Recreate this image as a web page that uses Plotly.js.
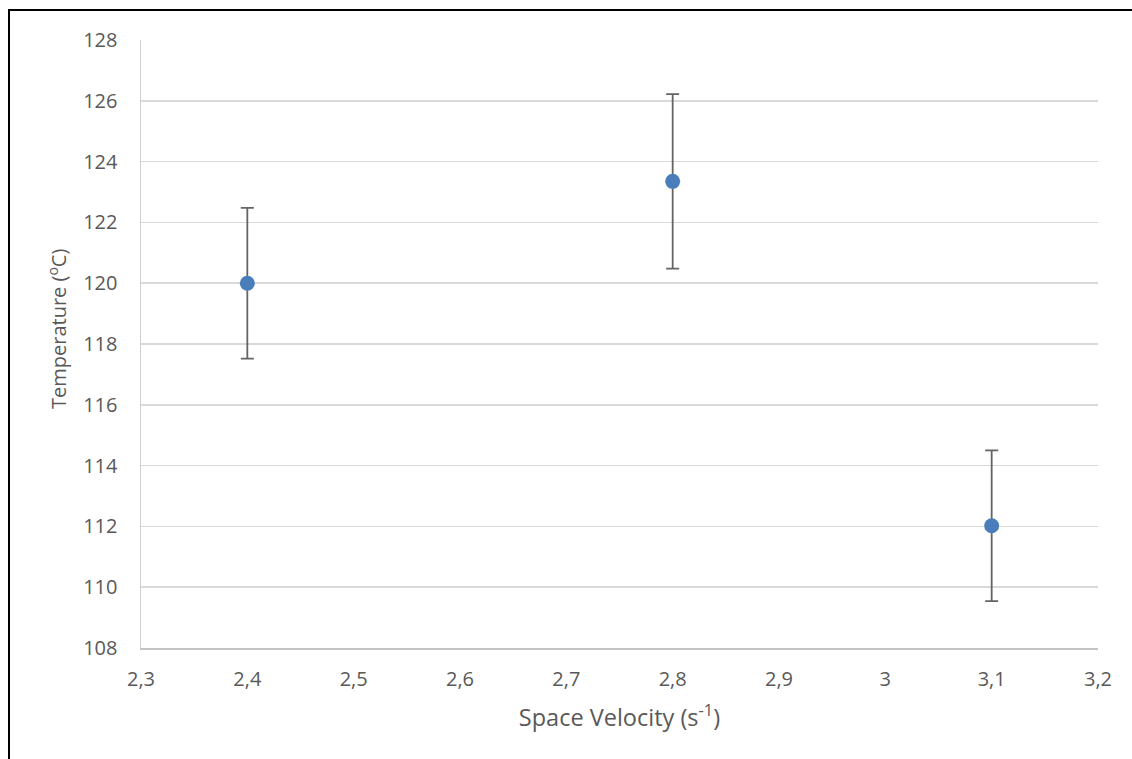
<!DOCTYPE html>
<html>
<head>
<meta charset="utf-8">
<script src="https://cdn.plot.ly/plotly-3.0.1.min.js"></script>
<style>
  html, body { margin: 0; padding: 0; background: #fff; overflow: hidden; }
  #wrap { position: relative; width: 1132px; height: 759px; }
  #chart { position: absolute; left: 0; top: 0; width: 1132px; height: 759px; }
  #frame { position: absolute; left: 8px; top: 9px; width: 1300px; height: 900px;
           border: 2px solid #000; pointer-events: none; box-sizing: border-box; }
</style>
</head>
<body>
<div id="wrap">
  <div id="chart"></div>
  <div id="frame"></div>
</div>
<script>
const spaceVelocity = [2.4, 2.8, 3.1];
const temperature = [120.0, 123.35, 112.02];
const errorValues = [2.48, 2.87, 2.48];
const xTickValues = [2.3, 2.4, 2.5, 2.6, 2.7, 2.8, 2.9, 3.0, 3.1, 3.2];
const xTickLabels = ['2,3', '2,4', '2,5', '2,6', '2,7', '2,8', '2,9', '3', '3,1', '3,2'];
const yTickValues = [108, 110, 112, 114, 116, 118, 120, 122, 124, 126, 128];
const xTitle = 'Space Velocity (s<sup>-1</sup>)';
const yTitle = 'Temperature (<sup>o</sup>C)';

const fontFam = 'Open Sans';
const textColor = '#595959';

const trace = {
  x: spaceVelocity,
  y: temperature,
  mode: 'markers',
  type: 'scatter',
  marker: { color: '#4a7ebb', size: 15 },
  error_y: { type: 'data', array: errorValues, visible: true,
             color: '#646464', thickness: 1.8, width: 6.5 },
  showlegend: false,
  hoverinfo: 'x+y'
};

const layout = {
  width: 1132, height: 759,
  margin: { l: 141, r: 34, t: 40, b: 111 },
  paper_bgcolor: '#fff', plot_bgcolor: '#fff',
  separators: ', ',
  font: { family: fontFam, color: textColor, size: 20 },
  xaxis: {
    range: [2.3, 3.2], tickvals: xTickValues, ticktext: xTickLabels,
    showgrid: false, zeroline: false,
    showline: true, linecolor: '#c4c4c4', linewidth: 1.5,
    ticks: '', ticklabelstandoff: 12,
    tickfont: { size: 20, color: textColor, family: fontFam },
    title: { text: xTitle, standoff: 19,
             font: { size: 23.5, color: textColor, family: fontFam } }
  },
  yaxis: {
    range: [108, 128], tickvals: yTickValues,
    showgrid: true, gridcolor: '#d9d9d9', gridwidth: 1.5,
    zeroline: false, showline: true, linecolor: '#d0d0d0', linewidth: 1.5,
    ticks: '', ticklabelstandoff: 18,
    tickfont: { size: 20, color: textColor, family: fontFam }
  },
  annotations: [{
    text: yTitle, textangle: -90, showarrow: false,
    xref: 'paper', yref: 'paper',
    x: (57 - 141) / 957, y: (648 - 329) / 608,
    xanchor: 'center', yanchor: 'middle',
    font: { size: 20, color: textColor, family: fontFam }
  }]
};

Plotly.newPlot('chart', [trace], layout, { displayModeBar: false, staticPlot: true });
</script>
</body>
</html>
